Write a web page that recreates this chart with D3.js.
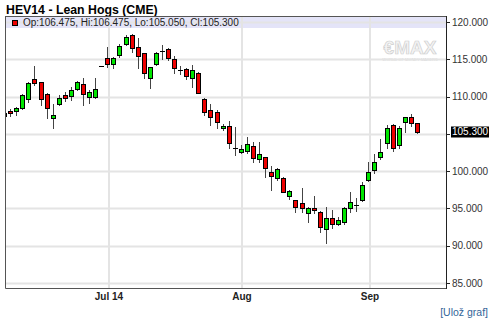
<!DOCTYPE html>
<html><head><meta charset="utf-8">
<script src="https://cdn.jsdelivr.net/npm/d3@7"></script>
<style>html,body{margin:0;padding:0;background:#fff;} svg{display:block;font-family:"Liberation Sans",Arial,sans-serif;}</style>
</head><body><svg id="c" width="500" height="318"></svg>
<script>
const dates = ["2014-06-06","2014-06-09","2014-06-10","2014-06-11","2014-06-12","2014-06-13","2014-06-16","2014-06-17","2014-06-18","2014-06-19","2014-06-20","2014-06-23","2014-06-24","2014-06-25","2014-06-26","2014-06-27","2014-06-30",
"2014-07-01","2014-07-02","2014-07-03","2014-07-07","2014-07-08","2014-07-09","2014-07-10","2014-07-11","2014-07-14","2014-07-15","2014-07-16","2014-07-17","2014-07-18","2014-07-21","2014-07-22","2014-07-23","2014-07-24","2014-07-25","2014-07-28","2014-07-29","2014-07-30","2014-07-31",
"2014-08-01","2014-08-04","2014-08-05","2014-08-06","2014-08-07","2014-08-08","2014-08-11","2014-08-12","2014-08-13","2014-08-14","2014-08-15","2014-08-18","2014-08-19","2014-08-20","2014-08-21","2014-08-22","2014-08-25","2014-08-26","2014-08-27","2014-08-28","2014-08-29",
"2014-09-02","2014-09-03","2014-09-04","2014-09-05","2014-09-08","2014-09-09","2014-09-10","2014-09-11","2014-09-12"];
const opens = [107.39,108.10,108.02,108.47,109.63,112.31,111.91,110.30,107.08,109.00,110.21,110.03,110.97,111.64,109.90,109.90,114.10,115.21,114.33,115.57,117.05,118.26,116.61,115.80,112.53,114.33,116.15,116.34,115.04,113.56,113.66,112.45,113.20,109.67,108.20,107.97,105.78,106.05,103.10,102.60,102.74,103.41,101.59,101.85,99.84,99.04,99.04,96.70,96.13,95.68,94.34,95.09,94.56,92.24,93.67,92.87,93.14,95.01,95.46,96.09,98.85,100.19,101.89,103.81,106.19,103.50,106.55,107.30,106.475];
const highs = [107.95,108.29,108.64,110.34,111.99,114.10,111.95,110.48,109.00,110.17,110.61,111.24,112.13,112.53,110.88,112.53,114.10,116.61,115.35,117.05,118.30,118.39,117.81,115.84,114.00,116.02,116.92,116.47,115.44,114.10,113.79,114.23,113.33,109.77,109.00,108.20,106.32,106.72,105.92,103.50,104.62,103.87,103.87,101.87,100.73,100.38,99.17,97.47,96.15,97.78,95.23,96.70,94.65,95.23,94.79,93.89,95.23,97.24,96.35,98.50,101.18,102.26,104.31,106.19,106.28,106.09,107.30,107.62,106.475];
const lows = [107.25,107.39,107.57,108.33,109.31,111.55,108.87,107.12,105.78,108.83,109.44,109.54,110.88,108.87,109.10,109.85,114.10,114.00,113.79,115.35,116.92,116.02,113.79,112.49,111.11,114.23,115.00,114.90,113.12,113.03,112.31,111.32,110.44,107.53,106.19,105.74,105.52,103.10,102.16,102.39,102.39,101.26,101.26,99.25,97.47,98.81,97.20,96.26,94.48,94.48,93.22,94.34,91.88,90.32,92.37,92.77,92.87,94.56,94.65,96.00,98.68,99.71,101.63,103.14,102.70,103.06,105.21,106.09,105.05];
const closes = [107.84,107.76,108.47,110.17,111.78,111.78,109.63,108.43,107.49,109.85,109.77,110.88,111.91,110.30,110.65,110.97,114.10,114.33,115.21,116.82,118.03,116.47,115.44,113.12,113.92,115.80,116.15,115.21,113.79,113.56,112.80,113.52,110.52,107.97,107.30,106.63,106.05,103.77,103.10,102.97,103.64,101.72,102.26,100.38,99.39,100.24,97.24,97.33,95.15,95.01,95.01,94.83,92.55,93.67,92.91,93.40,95.01,95.90,95.46,98.10,99.84,101.18,102.60,105.74,103.14,105.82,107.22,106.41,105.30];
const yTicks = [85,90,95,100,105,110,115,120];
const monthTickDates = ["2014-07-01","2014-08-01","2014-09-02"];
const monthTickLabels = ["Jul 14","Aug","Sep"];
const titleText = "HEV14 - Lean Hogs (CME)";
const lastIdx = closes.length - 1;
const legendText = `Op:${opens[lastIdx].toFixed(3)}, Hi:${highs[lastIdx].toFixed(3)}, Lo:${lows[lastIdx].toFixed(3)}, Cl:${closes[lastIdx].toFixed(3)}`;

const svg = d3.select("#c");
const L = 6, R = 446, T = 16, B = 288;
const x = d3.scaleLinear().domain([0.23, 72.72]).range([L, R]);
const y = d3.scaleLinear().domain([84.32, 120.805]).range([B, T]);
const fmt = d3.format(".3f");

// title
svg.append("text").attr("x", 6).attr("y", 14).attr("font-size", 12.3).attr("font-weight", "bold").attr("fill", "#000").text(titleText);

// plot background
svg.append("rect").attr("x", L).attr("y", T).attr("width", R - L).attr("height", B - T).attr("fill", "#fff");

// watermark
const wm = svg.append("g");
wm.append("text").attr("x", 410).attr("y", 54).attr("text-anchor", "middle").attr("font-size", 19).attr("font-weight", "bold")
  .attr("fill", "#f4f4f4").attr("stroke", "#cfcfcf").attr("stroke-width", 0.7).text("€MAX");
wm.append("text").attr("x", 410).attr("y", 61).attr("text-anchor", "middle").attr("font-size", 4).attr("fill", "#cccccc").text("WORLD OF MONEY MAKERS");

// legend band
svg.append("rect").attr("x", L).attr("y", T).attr("width", R - L).attr("height", 12).attr("fill", "#e4e4f8");

// grid
const tickIdx = monthTickDates.map(d => dates.indexOf(d));
svg.append("g").selectAll("line").data(yTicks).join("line")
  .attr("x1", L).attr("x2", R).attr("y1", d => Math.round(y(d)) + 0.5).attr("y2", d => Math.round(y(d)) + 0.5)
  .attr("stroke", "#e4e4e4").attr("stroke-width", 2);
svg.append("g").selectAll("line").data(tickIdx).join("line")
  .attr("x1", d => Math.round(x(d)) + 1).attr("x2", d => Math.round(x(d)) + 1).attr("y1", T).attr("y2", B)
  .attr("stroke", "#e4e4e4").attr("stroke-width", 2);

// legend content
svg.append("rect").attr("x", 12.5).attr("y", 20.5).attr("width", 5).attr("height", 5).attr("fill", "#ee0000").attr("stroke", "#000");
svg.append("text").attr("x", 23).attr("y", 26).attr("font-size", 10).attr("fill", "#222").text(legendText);

// candles
svg.append("clipPath").attr("id", "clp").append("rect").attr("x", L).attr("y", T).attr("width", R - L).attr("height", B - T);
const idx = d3.range(dates.length);
const g = svg.append("g").attr("clip-path", "url(#clp)");
const left = i => Math.round(x(i) - 2.5);
g.selectAll("line.w").data(idx).join("line").attr("class", "w")
  .attr("x1", i => left(i) + 2.5).attr("x2", i => left(i) + 2.5)
  .attr("y1", i => Math.round(y(highs[i]))).attr("y2", i => Math.round(y(lows[i])) + 1)
  .attr("stroke", "#444").attr("stroke-width", 1);
g.selectAll("rect.b").data(idx.filter(i => opens[i] !== closes[i])).join("rect").attr("class", "b")
  .attr("x", i => left(i) + 0.5).attr("width", 4)
  .attr("y", i => Math.round(y(Math.max(opens[i], closes[i]))) + 0.5)
  .attr("height", i => Math.max(1, Math.round(y(Math.min(opens[i], closes[i]))) - Math.round(y(Math.max(opens[i], closes[i])))))
  .attr("fill", i => closes[i] > opens[i] ? "#00e600" : "#ee0000")
  .attr("stroke", "#000").attr("stroke-width", 1);
g.selectAll("line.d").data(idx.filter(i => opens[i] === closes[i])).join("line").attr("class", "d")
  .attr("x1", i => left(i)).attr("x2", i => left(i) + 5)
  .attr("y1", i => Math.round(y(opens[i])) + 0.5).attr("y2", i => Math.round(y(opens[i])) + 0.5)
  .attr("stroke", "#000").attr("stroke-width", 1);

// frame
svg.append("path").attr("d", `M${L - 0.5},${T}V${B + 0.5}H${R}M${L - 0.5},${T + 0.5}H${R}`)
  .attr("fill", "none").attr("stroke", "#555").attr("stroke-width", 1);
svg.append("line").attr("x1", R + 0.5).attr("x2", R + 0.5).attr("y1", T).attr("y2", B + 1).attr("stroke", "#222");

// right axis
const yl = y(closes[lastIdx]);
const ax = svg.append("g");
ax.selectAll("line").data(yTicks).join("line")
  .attr("x1", R).attr("x2", R + 4).attr("y1", d => Math.round(y(d)) + 0.5).attr("y2", d => Math.round(y(d)) + 0.5).attr("stroke", "#222");
ax.selectAll("text").data(yTicks.filter(d => Math.abs(y(d) - yl) > 11)).join("text")
  .attr("x", 452).attr("y", d => y(d) + 3.6).attr("font-size", 10).attr("fill", "#333").text(d => fmt(d));

// last value marker
svg.append("rect").attr("x", 451).attr("y", Math.round(yl) - 5.5).attr("width", 38).attr("height", 11).attr("fill", "#000");
svg.append("text").attr("x", 452).attr("y", yl + 3.6).attr("font-size", 10).attr("fill", "#fff").text(fmt(closes[lastIdx]));

// x labels
svg.append("g").selectAll("text").data(tickIdx).join("text")
  .attr("x", (d) => Math.round(x(d)) + 1).attr("y", 300).attr("text-anchor", "middle")
  .attr("font-size", 10).attr("font-weight", "bold").attr("fill", "#222")
  .text((d, i) => monthTickLabels[i]);

// save link
svg.append("text").attr("x", 488).attr("y", 316).attr("text-anchor", "end").attr("font-size", 10.5).attr("fill", "#336699").text("[Ulož graf]");
</script>
</body></html>
